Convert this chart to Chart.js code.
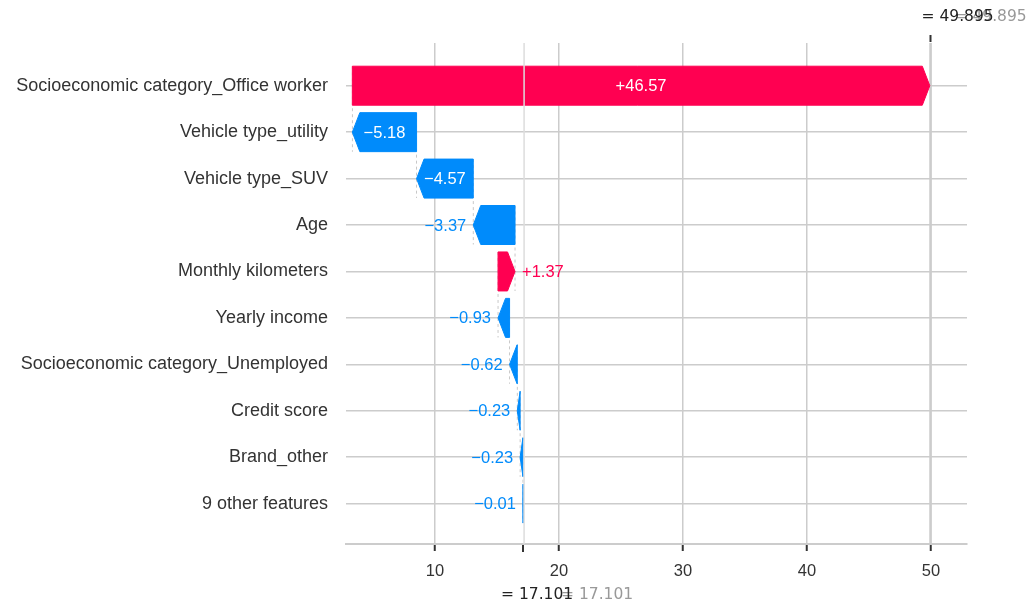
<!DOCTYPE html>
<html>
<head>
<meta charset="utf-8">
<script src="https://cdn.jsdelivr.net/npm/chart.js@4/dist/chart.umd.min.js"></script>
<style>
  html, body { margin: 0; padding: 0; background: #fff; }
  #wrap { width: 1036px; height: 607px; position: relative; }
</style>
</head>
<body>
<div id="wrap"><canvas id="shapWaterfall"></canvas></div>
<script>
// ── Data ────────────────────────────────────────────────────────────────
var features = [
    'Socioeconomic category_Office worker',
    'Vehicle type_utility',
    'Vehicle type_SUV',
    'Age',
    'Monthly kilometers',
    'Yearly income',
    'Socioeconomic category_Unemployed',
    'Credit score',
    'Brand_other',
    '9 other features'
];
var shapValues  = [46.57, -5.18, -4.57, -3.37, 1.37, -0.93, -0.62, -0.23, -0.23, -0.01];
var baseValue   = 17.101;
var outputValue = 49.895;
var xTicks      = [10, 20, 30, 40, 50];

(function() {
    'use strict';

    var RED  = '#ff0051';
    var BLUE = '#008bfb';
    var SANS = "'Liberation Sans', Arial, sans-serif";
    var DEJAVU = "'DejaVu Sans', sans-serif";
    var HEAD = 7.5;

    // waterfall goes bottom-up from the base value
    var spans = new Array(features.length);
    var run = baseValue;
    for (var i = features.length - 1; i >= 0; i--) {
        spans[i] = [run, run + shapValues[i]];
        run += shapValues[i];
    }

    function fmt(v) {
        return (v >= 0 ? '+' : '\u2212') + Math.abs(v).toFixed(2);
    }

    // ── Plugin: arrows, connectors, base / f(x) markers ────────────────
    var waterfall = {
        id: 'waterfall',
        beforeDatasetsDraw: function(chart) {
            var ctx = chart.ctx, x = chart.scales.x;
            var area = chart.chartArea;
            var meta = chart.getDatasetMeta(0);
            ctx.save();
            // dashed connectors between consecutive rows
            ctx.strokeStyle = '#bbbbbb';
            ctx.lineWidth = 0.8;
            ctx.setLineDash([3, 3]);
            for (var i = 0; i < features.length - 1; i++) {
                var px = x.getPixelForValue(spans[i][0]);
                var b0 = meta.data[i], b1 = meta.data[i + 1];
                ctx.beginPath();
                ctx.moveTo(px, b0.y - b0.height / 2);
                ctx.lineTo(px, b1.y + b1.height / 2);
                ctx.stroke();
            }
            ctx.setLineDash([]);
            // f(x) line
            var fx = Math.round(x.getPixelForValue(outputValue)) + 0.5;
            ctx.strokeStyle = '#cccccc';
            ctx.lineWidth = 2.5;
            ctx.beginPath();
            ctx.moveTo(fx, area.top);
            ctx.lineTo(fx, area.bottom);
            ctx.stroke();
            ctx.restore();
        },
        afterDatasetsDraw: function(chart) {
            var ctx = chart.ctx, x = chart.scales.x;
            var area = chart.chartArea;
            var meta = chart.getDatasetMeta(0);
            ctx.save();
            meta.data.forEach(function(bar, i) {
                var p = bar.getProps(['y', 'height'], true);
                var base = x.getPixelForValue(spans[i][0]);
                var tip  = x.getPixelForValue(spans[i][1]);
                var top = p.y - p.height / 2, bot = p.y + p.height / 2;
                var dir = tip >= base ? 1 : -1;
                var hl = Math.min(HEAD, Math.abs(tip - base));
                var col = shapValues[i] >= 0 ? RED : BLUE;
                ctx.beginPath();
                ctx.moveTo(base, top);
                ctx.lineTo(tip - dir * hl, top);
                ctx.lineTo(tip, p.y);
                ctx.lineTo(tip - dir * hl, bot);
                ctx.lineTo(base, bot);
                ctx.closePath();
                ctx.fillStyle = col;
                ctx.strokeStyle = col;
                ctx.lineWidth = 1;
                ctx.fill();
                ctx.stroke();
            });

            // base value line sits over the bars
            var bx = x.getPixelForValue(baseValue) + 1;
            ctx.strokeStyle = '#dddddd';
            ctx.lineWidth = 1.5;
            ctx.beginPath();
            ctx.moveTo(bx, area.top);
            ctx.lineTo(bx, area.bottom);
            ctx.stroke();

            // value labels
            ctx.font = '16.5px ' + SANS;
            ctx.textBaseline = 'middle';
            meta.data.forEach(function(bar, i) {
                var y = bar.getProps(['y'], true).y + 1;
                var base = x.getPixelForValue(spans[i][0]);
                var tip  = x.getPixelForValue(spans[i][1]);
                var txt = fmt(shapValues[i]);
                var tw = ctx.measureText(txt).width;
                if (tw + HEAD + 6 < Math.abs(tip - base)) {
                    ctx.fillStyle = '#ffffff';
                    ctx.textAlign = 'center';
                    ctx.fillText(txt, (tip + base) / 2, y);
                } else if (shapValues[i] >= 0) {
                    ctx.fillStyle = RED;
                    ctx.textAlign = 'left';
                    ctx.fillText(txt, tip + 7, y);
                } else {
                    ctx.fillStyle = BLUE;
                    ctx.textAlign = 'right';
                    ctx.fillText(txt, tip - 7, y);
                }
            });
            ctx.restore();
        },
        afterDraw: function(chart) {
            var ctx = chart.ctx, x = chart.scales.x;
            var area = chart.chartArea;
            var fx = Math.round(x.getPixelForValue(outputValue)) + 0.5;
            var bx = Math.round(x.getPixelForValue(baseValue));
            ctx.save();
            // tick marks for f(x) (top) and E[f(X)] (bottom)
            ctx.strokeStyle = '#333333';
            ctx.lineWidth = 2;
            ctx.beginPath();
            ctx.moveTo(fx, area.top - 8);
            ctx.lineTo(fx, area.top - 1);
            ctx.moveTo(bx, area.bottom + 1);
            ctx.lineTo(bx, area.bottom + 8);
            ctx.stroke();

            ctx.font = '15.5px ' + DEJAVU;
            ctx.textBaseline = 'middle';
            ctx.textAlign = 'left';
            var topTxt = '= ' + outputValue.toFixed(3);
            var botTxt = '= ' + baseValue.toFixed(3);
            ctx.fillStyle = '#999999';
            ctx.fillText(topTxt, fx + 24, 17);
            ctx.fillText(botTxt, bx + 38, 595);
            ctx.fillStyle = '#222222';
            ctx.fillText(topTxt, fx - 9, 17);
            ctx.fillText(botTxt, bx - 22, 595);
            ctx.restore();
        }
    };

    // ── Chart ───────────────────────────────────────────────────────────
    new Chart(document.getElementById('shapWaterfall'), {
        type: 'bar',
        data: {
            datasets: [{
                data: spans.map(function(s, i) { return { x: s, y: i }; }),
                backgroundColor: 'rgba(0,0,0,0)',
                borderWidth: 0,
                barThickness: 39
            }]
        },
        options: {
            indexAxis: 'y',
            responsive: true,
            maintainAspectRatio: false,
            animation: false,
            layout: { padding: { top: 43, right: 69, bottom: 0, left: 0 } },
            plugins: { legend: { display: false }, tooltip: { enabled: false } },
            scales: {
                x: {
                    type: 'linear',
                    min: 2.82,
                    max: 52.9,
                    afterBuildTicks: function(s) {
                        s.ticks = xTicks.map(function(v) { return { value: v }; });
                    },
                    afterFit: function(s) { s.height = 63; },
                    grid: { color: '#cccccc', lineWidth: 1.5, tickColor: '#333333', tickLength: 7, tickWidth: 2 },
                    border: { display: true, color: '#cccccc', width: 2 },
                    ticks: { color: '#333333', padding: 11, font: { family: SANS, size: 16.5 } }
                },
                y: {
                    type: 'linear',
                    reverse: true,
                    offset: false,
                    min: -0.92,
                    max: 9.87,
                    afterBuildTicks: function(s) {
                        s.ticks = features.map(function(f, i) { return { value: i }; });
                    },
                    afterFit: function(s) { s.width = 346; },
                    grid: { color: '#cccccc', lineWidth: 1.5, drawTicks: false, offset: false },
                    border: { display: false },
                    ticks: {
                        color: '#333333',
                        padding: 18,
                        font: { family: SANS, size: 18 },
                        callback: function(v) { return features[v]; }
                    }
                }
            }
        },
        plugins: [waterfall]
    });
})();
</script>
</body>
</html>
